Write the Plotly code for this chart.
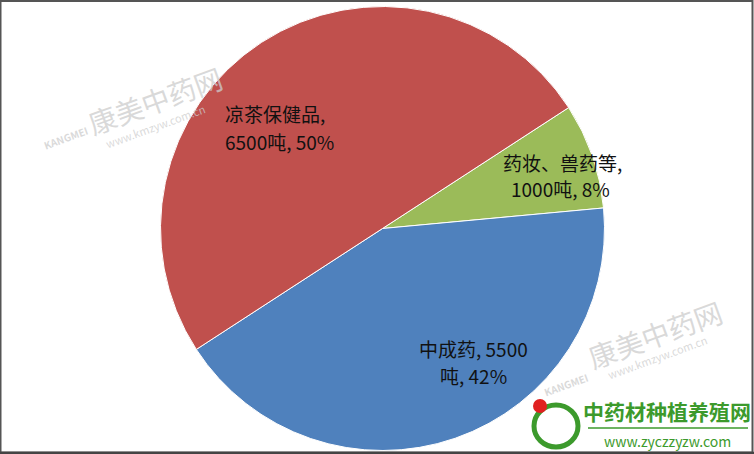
import plotly.graph_objects as go

# Data
categories = ["药妆、兽药等", "中成药", "凉茶保健品"]
tonnes = [1000, 5500, 6500]
shares = ["8%", "42%", "50%"]
colors = ["#9BBB59", "#4F81BD", "#C0504D"]

W, H = 754, 454
FONT = "Noto Sans CJK SC, Noto Sans, sans-serif"

fig = go.Figure(go.Pie(
    labels=categories,
    values=tonnes,
    sort=False,
    direction="clockwise",
    rotation=57,
    marker=dict(colors=colors, line=dict(color="white", width=1)),
    textinfo="none",
    hoverinfo="label+value+percent",
    showlegend=False,
    domain=dict(x=[160.5 / W, 604.5 / W], y=[3.5 / H, 447.5 / H]),
))

def px(x, y):
    return x / W, 1 - y / H

anns = []
def add(text, x, y, size=19, color="#111", anchor="center", angle=0, bold=False):
    xx, yy = px(x, y)
    if bold:
        text = "<b>" + text + "</b>"
    anns.append(dict(text=text, x=xx, y=yy, xref="paper", yref="paper",
                     xanchor=anchor, yanchor="middle", showarrow=False,
                     textangle=angle,
                     font=dict(family=FONT, size=size, color=color)))

# Watermarks (faint)
wm = "rgba(205,205,205,0.75)"
add("康美中药网", 155, 100, size=28, color=wm, angle=-20)
add("www.kmzyw.com.cn", 155, 126, size=11, color=wm, angle=-20)
add("KANGMEI", 66, 138, size=10, color=wm, angle=-20, bold=True)
add("康美中药网", 655, 334, size=28, color=wm, angle=-20)
add("www.kmzyw.com.cn", 657, 357, size=11, color=wm, angle=-20)
add("KANGMEI", 566, 384, size=10, color=wm, angle=-20, bold=True)

# Slice labels
add(f"{categories[2]},", 223, 113, anchor="left")
add(f"{tonnes[2]}吨, {shares[2]}", 223, 141, anchor="left")
add(f"{categories[0]},", 562, 162)
add(f"{tonnes[0]}吨, {shares[0]}", 560, 188)
add(f"{categories[1]}, {tonnes[1]}", 473, 348)
add(f"吨, {shares[1]}", 473, 375)

# Bottom-right site logo text
add("中药材种植养殖网", 667, 411, size=21, color="#3C9A2C", bold=True)
add("www.zyczzyzw.com", 667, 441, size=14, color="#3C9A2C")

shapes = [
    dict(type="line", xref="paper", yref="paper", x0=px(588, 0)[0], x1=px(748, 0)[0],
         y0=px(0, 428)[1], y1=px(0, 428)[1], line=dict(color="#3C9A2C", width=1.5)),
    dict(type="circle", xref="paper", yref="paper",
         x0=px(534, 0)[0], x1=px(578, 0)[0], y0=px(0, 447)[1], y1=px(0, 405)[1],
         line=dict(color="#3C9A2C", width=5)),
    dict(type="circle", xref="paper", yref="paper", fillcolor="#E02020",
         x0=px(533, 0)[0], x1=px(547, 0)[0], y0=px(0, 413)[1], y1=px(0, 399)[1],
         line=dict(color="#E02020", width=0)),
    # frame
    dict(type="rect", xref="paper", yref="paper", x0=0.5 / W, x1=1 - 1.5 / W,
         y0=1.5 / H, y1=1 - 1 / H, line=dict(color="#555555", width=2)),
    dict(type="line", xref="paper", yref="paper", x0=0, x1=1, y0=0.8 / H, y1=0.8 / H,
         line=dict(color="#444444", width=3)),
]

fig.update_layout(
    width=W, height=H,
    margin=dict(l=0, r=0, t=0, b=0),
    paper_bgcolor="white", plot_bgcolor="white",
    annotations=anns, shapes=shapes,
    font=dict(family=FONT),
)

fig.write_html("out.html", config={"displayModeBar": False},
               post_script="document.body.style.margin='0';document.body.style.overflow='hidden';")
